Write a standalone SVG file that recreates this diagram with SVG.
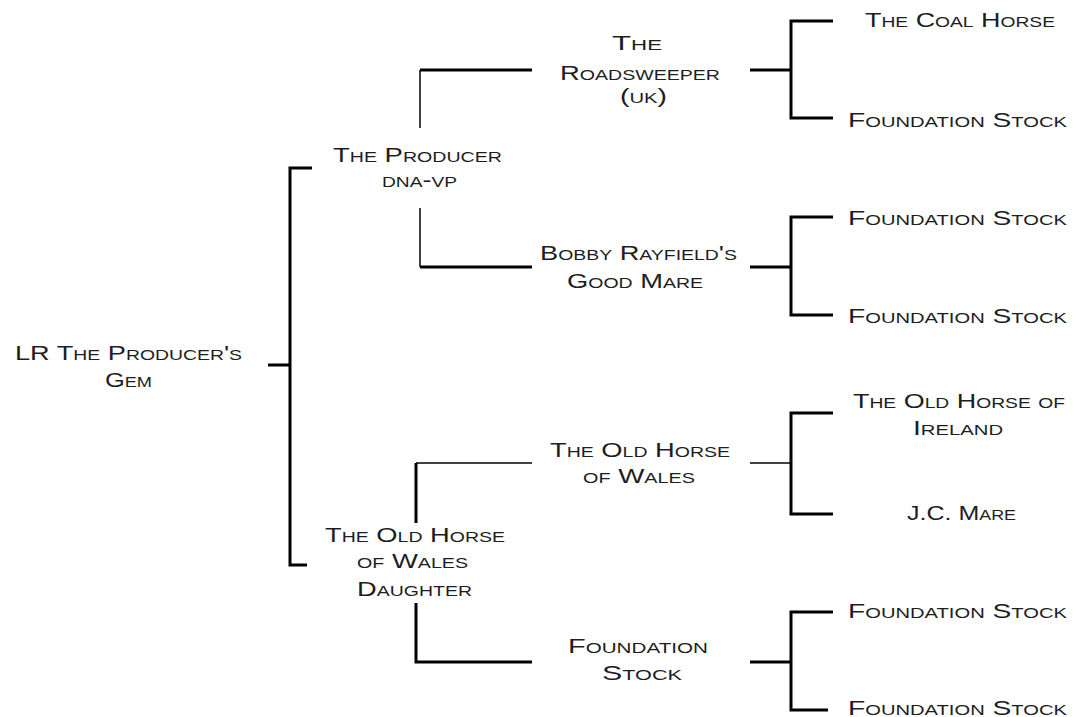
<svg xmlns="http://www.w3.org/2000/svg" width="1074" height="717" viewBox="0 0 1074 717">
<style>
text{font-family:"Liberation Sans",Arial,sans-serif;font-size:21px;font-variant:small-caps;fill:#1e1e1e;text-anchor:middle}
.k{stroke:#000;stroke-width:3;fill:none}
.t{stroke:#000;stroke-width:1.5;fill:none}
</style>
<rect width="1074" height="717" fill="#fff"/>
<g id="connectors">
<path class="k" d="M268 365H290M312 168H290V565H307"/>
<path class="k" d="M532 70H420"/><path class="t" d="M420 70V128"/>
<path class="t" d="M420 208V267"/><path class="k" d="M420 267H532"/>
<path class="t" d="M532 463H416"/><path class="k" d="M416 463V523"/>
<path class="k" d="M416 603V662H532"/>
<path class="k" d="M750 70H791M833 21H791V118H833"/>
<path class="k" d="M750 267H791M833 217H791V315H833"/>
<path class="t" d="M750 463H791"/><path class="k" d="M833 413H791V514H833"/>
<path class="k" d="M750 662H791M833 612H791V710H828"/>
</g>
<g id="root"><text x="128.5" y="360" textLength="227" lengthAdjust="spacingAndGlyphs">LR The Producer's</text><text x="128.5" y="387" textLength="47" lengthAdjust="spacingAndGlyphs">Gem</text></g>
<g id="producer"><text x="417.5" y="162" textLength="169" lengthAdjust="spacingAndGlyphs">The Producer</text><text x="419.5" y="187" textLength="75" lengthAdjust="spacingAndGlyphs">dna-vp</text></g>
<g id="roadsweeper"><text x="637" y="50" textLength="50" lengthAdjust="spacingAndGlyphs">The</text><text x="640" y="80" textLength="160" lengthAdjust="spacingAndGlyphs">Roadsweeper</text><text x="643.5" y="103" textLength="47" lengthAdjust="spacingAndGlyphs">(uk)</text></g>
<g id="bobby"><text x="638.5" y="260" textLength="197" lengthAdjust="spacingAndGlyphs">Bobby Rayfield's</text><text x="635" y="288" textLength="136" lengthAdjust="spacingAndGlyphs">Good Mare</text></g>
<g id="ohw-daughter"><text x="415" y="542" textLength="180" lengthAdjust="spacingAndGlyphs">The Old Horse</text><text x="412.5" y="568" textLength="111" lengthAdjust="spacingAndGlyphs">of Wales</text><text x="414.5" y="596" textLength="115" lengthAdjust="spacingAndGlyphs">Daughter</text></g>
<g id="ohw"><text x="640" y="457" textLength="180" lengthAdjust="spacingAndGlyphs">The Old Horse</text><text x="639" y="483" textLength="112" lengthAdjust="spacingAndGlyphs">of Wales</text></g>
<g id="fs-mid"><text x="638" y="653" textLength="140" lengthAdjust="spacingAndGlyphs">Foundation</text><text x="642" y="680" textLength="80" lengthAdjust="spacingAndGlyphs">Stock</text></g>
<g id="coal"><text x="960" y="27" textLength="190" lengthAdjust="spacingAndGlyphs">The Coal Horse</text></g>
<g id="fs1"><text x="957.5" y="127" textLength="219" lengthAdjust="spacingAndGlyphs">Foundation Stock</text></g>
<g id="fs2"><text x="957.5" y="225" textLength="219" lengthAdjust="spacingAndGlyphs">Foundation Stock</text></g>
<g id="fs3"><text x="957.5" y="323" textLength="219" lengthAdjust="spacingAndGlyphs">Foundation Stock</text></g>
<g id="ireland"><text x="959" y="408" textLength="212" lengthAdjust="spacingAndGlyphs">The Old Horse of</text><text x="958" y="435" textLength="90" lengthAdjust="spacingAndGlyphs">Ireland</text></g>
<g id="jc"><text x="961.5" y="520" textLength="109" lengthAdjust="spacingAndGlyphs">J.C. Mare</text></g>
<g id="fs4"><text x="957.5" y="618" textLength="219" lengthAdjust="spacingAndGlyphs">Foundation Stock</text></g>
<g id="fs5"><text x="957.5" y="715" textLength="219" lengthAdjust="spacingAndGlyphs">Foundation Stock</text></g>
</svg>
